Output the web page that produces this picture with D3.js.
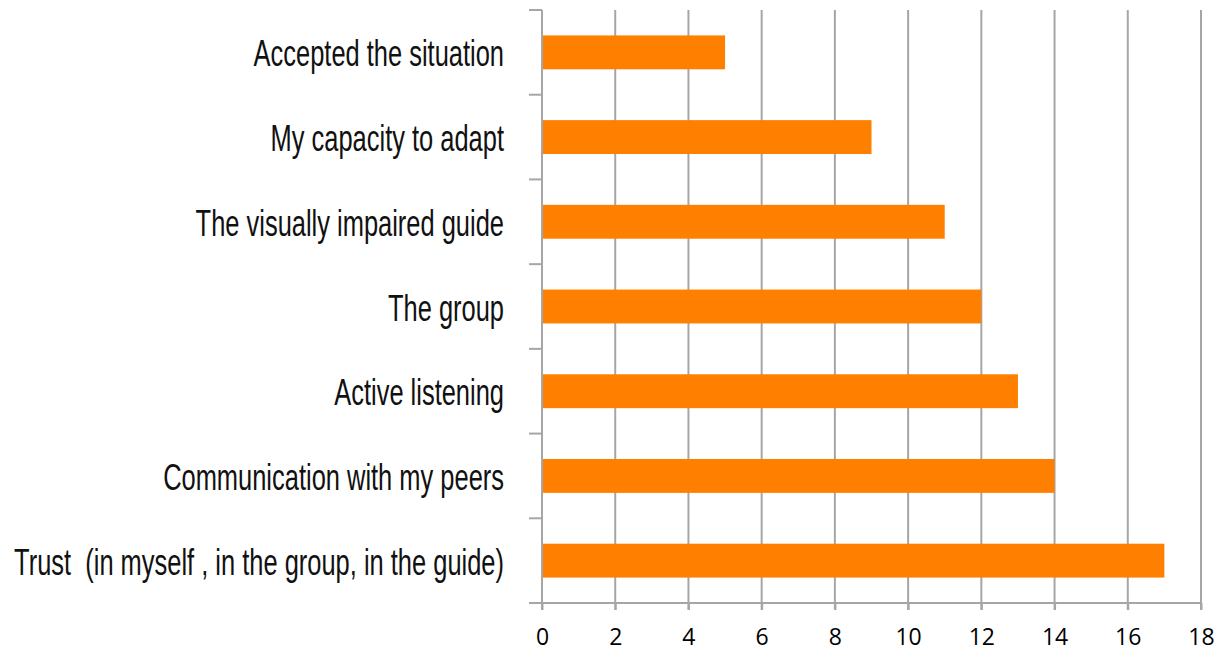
<!DOCTYPE html>
<html>
<head>
<meta charset="utf-8">
<script src="https://cdn.jsdelivr.net/npm/d3@7.9.0/dist/d3.min.js"></script>
<style>
  body { margin: 0; background: #fff; }
  svg { display: block; }
</style>
</head>
<body>
<svg id="chart" width="1220" height="651"></svg>
<script>
const categories = [
  'Accepted the situation',
  'My capacity to adapt',
  'The visually impaired guide',
  'The group',
  'Active listening',
  'Communication with my peers',
  'Trust  (in myself , in the group, in the guide)'
];
const values = [5, 9, 11, 12, 13, 14, 17];
const xTicks = [0, 2, 4, 6, 8, 10, 12, 14, 16, 18];

const margin = { top: 10, right: 19, bottom: 48, left: 542 };
const width = 1220, height = 651;

const svg = d3.select('#chart');

const x = d3.scaleLinear().domain([0, 18]).range([margin.left, width - margin.right]);
const y = d3.scaleBand().domain(categories).range([margin.top, height - margin.bottom]).paddingInner(0.6).paddingOuter(0.3);

const gridColor = '#a6a6a6';

// vertical gridlines
svg.append('g')
  .selectAll('line')
  .data(xTicks.slice(1))
  .join('line')
  .attr('x1', d => x(d)).attr('x2', d => x(d))
  .attr('y1', margin.top).attr('y2', height - margin.bottom + 7)
  .attr('stroke', gridColor).attr('stroke-width', 2);

// bars
svg.append('g')
  .selectAll('rect')
  .data(values)
  .join('rect')
  .attr('x', x(0))
  .attr('y', (d, i) => y(categories[i]))
  .attr('width', d => x(d) - x(0))
  .attr('height', y.bandwidth())
  .attr('fill', '#ff8000');

// bottom axis
const xAxis = svg.append('g')
  .attr('transform', `translate(0,${height - margin.bottom})`)
  .call(d3.axisBottom(x).tickValues(xTicks).tickSize(7).tickPadding(19));
xAxis.select('.domain').remove();
xAxis.append('line')
  .attr('x1', x(0) - 13).attr('x2', x(18))
  .attr('stroke', gridColor).attr('stroke-width', 2);
xAxis.selectAll('.tick line').attr('stroke', gridColor).attr('stroke-width', 2);
xAxis.selectAll('.tick text')
  .attr('fill', '#000')
  .style('font-family', '"Open Sans", sans-serif')
  .style('font-size', '23px');

// left axis line with tick marks between categories
const step = y.step();
const boundaries = d3.range(categories.length).map(i => y(categories[i]) - (step - y.bandwidth()) / 2);
const leftAxis = svg.append('g');
leftAxis.append('line')
  .attr('x1', x(0)).attr('x2', x(0))
  .attr('y1', margin.top).attr('y2', height - margin.bottom + 7)
  .attr('stroke', gridColor).attr('stroke-width', 2);
leftAxis.selectAll('line.tk')
  .data(boundaries)
  .join('line')
  .attr('class', 'tk')
  .attr('x1', x(0) - 13).attr('x2', x(0))
  .attr('y1', d => d).attr('y2', d => d)
  .attr('stroke', gridColor).attr('stroke-width', 2);

// category labels (condensed look by squeezing horizontally)
const labels = svg.append('g')
  .selectAll('text')
  .data(categories)
  .join('text')
  .attr('x', 0)
  .attr('y', 0)
  .attr('dy', '0.38em')
  .attr('text-anchor', 'end')
  .attr('fill', '#111')
  .style('font-family', '"Liberation Sans", sans-serif')
  .style('font-size', '37px')
  .style('white-space', 'pre')
  .text(d => d);

const longest = labels.nodes()[categories.length - 1].getComputedTextLength();
const sx = 490 / longest;
labels.attr('transform', d => `translate(504,${y(d) + y.bandwidth() / 2}) scale(${sx},1)`);
</script>
</body>
</html>
